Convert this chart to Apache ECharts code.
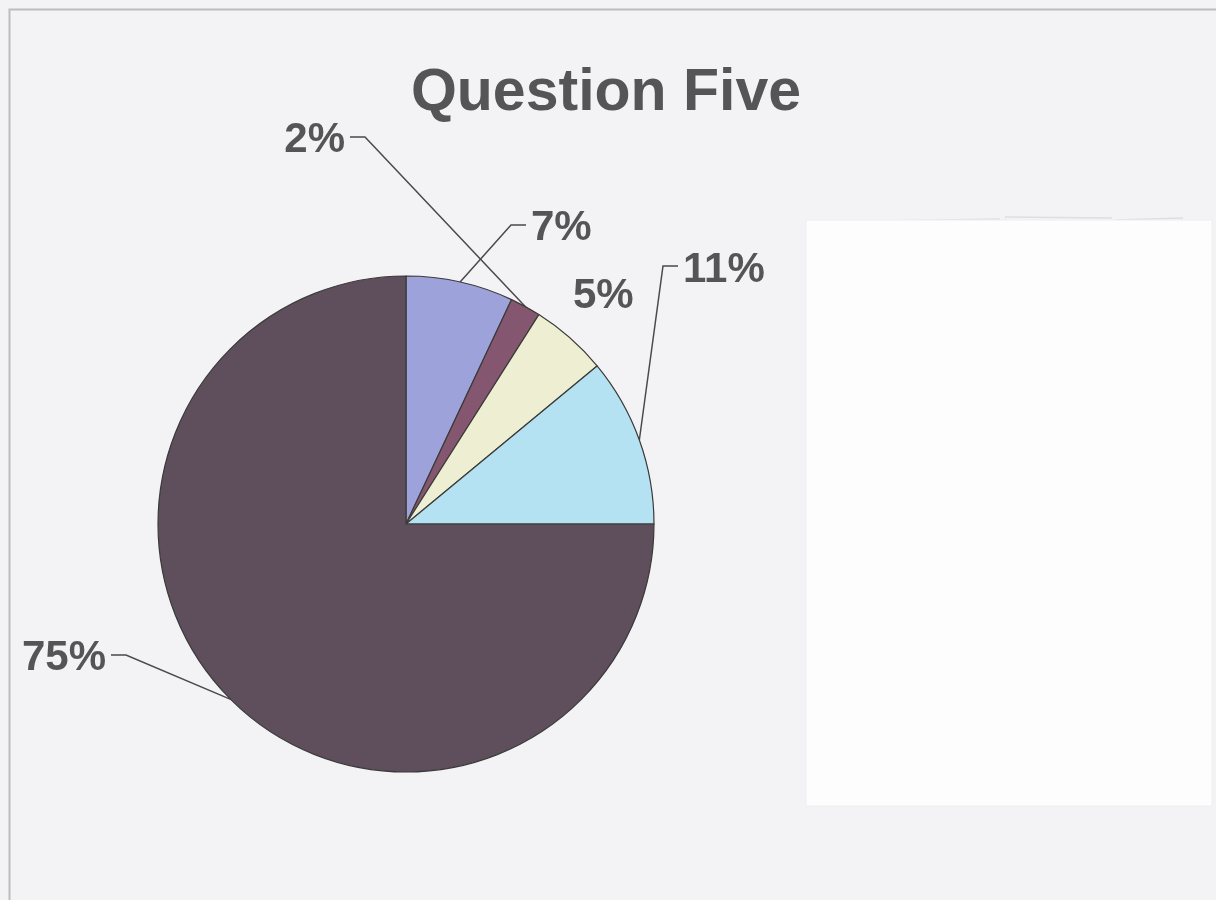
<!DOCTYPE html>
<html>
<head>
<meta charset="utf-8">
<script src="https://cdn.jsdelivr.net/npm/echarts@6/dist/echarts.min.js"></script>
<style>
  html, body { margin: 0; padding: 0; background: #f3f3f5; }
  #chart { width: 1216px; height: 900px; }
</style>
</head>
<body>
<div id="chart"></div>
<script>
// ---- data ----
const categories = ['Response A', 'Response B', 'Response C', 'Response D', 'Response E'];
const values = [7, 2, 5, 11, 75];
const labelTexts = ['7%', '2%', '5%', '11%', '75%'];
const sliceColors = ['#9da2da', '#85566f', '#eeeed2', '#b5e2f2', '#5f4e5b'];

// label placement (layout only)
const labelPlacement = [
  { x: 531, y: 228, align: 'left',  lineY: 225, line: true },
  { x: 345, y: 140, align: 'right', lineY: 137, line: true },
  { x: 573, y: 296, align: 'left',  lineY: 296, line: false },
  { x: 683, y: 270, align: 'left',  lineY: 266, line: true },
  { x: 106, y: 658, align: 'right', lineY: 655, line: true }
];

const chart = echarts.init(document.getElementById('chart'), null, { renderer: 'canvas' });

const option = {
  backgroundColor: '#f3f3f5',
  animation: false,
  title: {
    text: 'Question Five',
    left: 601,
    textAlign: 'center',
    top: 59,
    textStyle: {
      fontFamily: '"Liberation Sans", Arial, sans-serif',
      fontSize: 59,
      fontWeight: 'bold',
      color: '#555457'
    }
  },
  graphic: [
    {
      type: 'rect',
      shape: { x: 9.5, y: 9.5, width: 1230, height: 920 },
      style: { fill: 'none', stroke: '#bdbdbd', lineWidth: 2 },
      silent: true, z: -10
    },
    {
      type: 'rect',
      shape: { x: 806, y: 220, width: 406, height: 586 },
      style: { fill: '#fdfdfe', stroke: '#eeeef0', lineWidth: 1 },
      silent: true, z: 10
    },
    {
      type: 'group', z: 11, silent: true,
      children: [
        { type: 'line', shape: { x1: 916, y1: 224, x2: 910, y2: 780 }, style: { stroke: '#ececee', lineWidth: 1 } },
        { type: 'line', shape: { x1: 1005, y1: 218, x2: 997, y2: 806 }, style: { stroke: '#ececee', lineWidth: 1 } },
        { type: 'line', shape: { x1: 1112, y1: 222, x2: 1106, y2: 806 }, style: { stroke: '#ececee', lineWidth: 1 } },
        { type: 'line', shape: { x1: 820, y1: 222, x2: 1000, y2: 219 }, style: { stroke: '#dcdee1', lineWidth: 1.5 } },
        { type: 'line', shape: { x1: 1005, y1: 217, x2: 1112, y2: 218 }, style: { stroke: '#dcdee1', lineWidth: 1.5 } },
        { type: 'line', shape: { x1: 1115, y1: 220, x2: 1183, y2: 218 }, style: { stroke: '#dcdee1', lineWidth: 1.5 } }
      ]
    }
  ],
  series: [
    {
      type: 'pie',
      center: [406, 524],
      radius: 248,
      startAngle: 90,
      clockwise: true,
      avoidLabelOverlap: false,
      itemStyle: { borderColor: '#3a3a3a', borderWidth: 1.2 },
      emphasis: { disabled: true },
      label: {
        show: true,
        position: 'outside',
        formatter: (p) => labelTexts[p.dataIndex],
        fontFamily: '"Liberation Sans", Arial, sans-serif',
        fontSize: 42,
        fontWeight: 'bold',
        color: '#555457'
      },
      labelLine: {
        show: true,
        length: 30,
        length2: 15,
        lineStyle: { color: '#4a4a4a', width: 1.5 }
      },
      labelLayout: function (params) {
        const pl = labelPlacement[params.dataIndex];
        const res = { x: pl.x, y: pl.y, align: pl.align, verticalAlign: 'middle' };
        if (pl.line && params.labelLinePoints) {
          const p0 = params.labelLinePoints[0];
          const dir = pl.align === 'left' ? -1 : 1;
          const end = [pl.x + dir * 5, pl.lineY];
          const bend = [pl.x + dir * 20, pl.lineY];
          res.labelLinePoints = [p0, bend, end];
        }
        return res;
      },
      data: categories.map((name, i) => ({
        name: name,
        value: values[i],
        itemStyle: { color: sliceColors[i] },
        labelLine: { show: labelPlacement[i].line }
      }))
    }
  ]
};

chart.setOption(option);
</script>
</body>
</html>
